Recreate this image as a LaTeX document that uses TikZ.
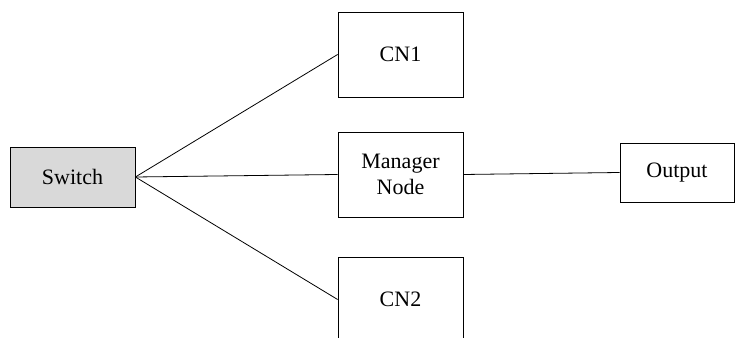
\documentclass[tikz,border=0pt]{standalone}
\usepackage{fontspec}
\setmainfont{Liberation Serif}
\begin{document}
\begin{tikzpicture}[x=0.75pt,y=0.75pt,
  box/.style={draw, line width=0.6pt, inner sep=0pt, align=center,
    font=\fontsize{16.5}{19.5}\selectfont},
  link/.style={line width=0.6pt}]
  \useasboundingbox (0,0) rectangle (735,338);
  % nodes
  \node[box, fill=gray!30, minimum width=93.75pt, minimum height=45pt] (switch) at (72.5,161) {Switch};
  \node[box, minimum width=93.75pt, minimum height=63.75pt] (cn1) at (400.5,283.5) {CN1};
  \node[box, minimum width=93.75pt, minimum height=63.75pt] (manager) at (400.5,163.5) {Manager\\Node};
  \node[box, minimum width=93.75pt, minimum height=63.75pt] (cn2) at (400.5,38.5) {CN2};
  \node[box, minimum width=85.5pt, minimum height=44.25pt] (output) at (677,165.5) {Output};
  % connections
  \draw[link] (switch.east) -- (cn1.west);
  \draw[link] (switch.east) -- (manager.west);
  \draw[link] (switch.east) -- (cn2.west);
  \draw[link] (manager.east) -- (output.west);
\end{tikzpicture}
\end{document}
